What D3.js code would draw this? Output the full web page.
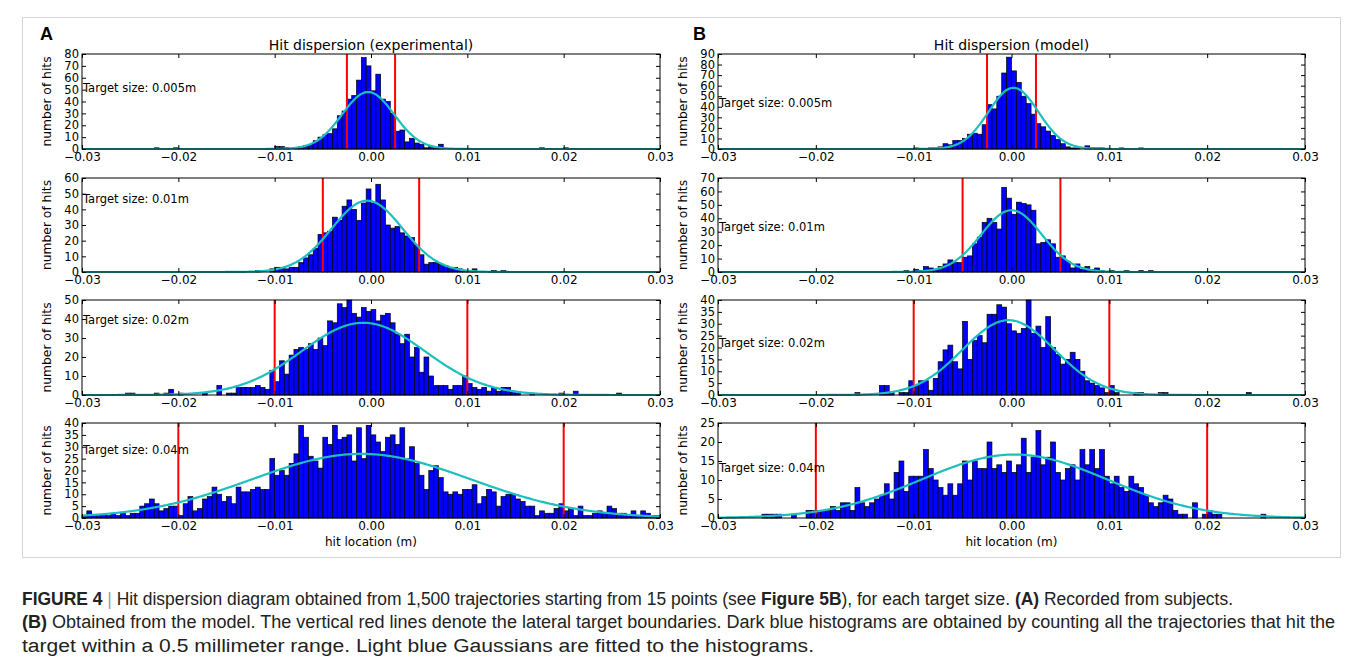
<!DOCTYPE html>
<html><head><meta charset="utf-8">
<script src="https://cdn.jsdelivr.net/npm/d3@7"></script>
<style>body{margin:0;background:#fff}</style>
</head><body><svg id="c" width="1357" height="669"></svg>
<script>
// ---------------- DATA ----------------
const binWidth = 0.0005;            // 0.5 mm bins
const xDomain = [-0.03, 0.03];
const xTickValues = [-0.03, -0.02, -0.01, 0.00, 0.01, 0.02, 0.03];
const targetSizes = [0.005, 0.01, 0.02, 0.04];
const targetLabels = ["Target size: 0.005m", "Target size: 0.01m", "Target size: 0.02m", "Target size: 0.04m"];
const panelTitles = ["Hit dispersion (experimental)", "Hit dispersion (model)"];
const panelLetters = ["A", "B"];
const yMaxExp = [80, 60, 50, 40];
const yStepExp = [10, 10, 10, 5];
const yMaxModel = [90, 70, 40, 25];
const yStepModel = [10, 10, 5, 5];

// histogram counts, 120 bins from -0.03 to 0.03
const exp005 = [
 0,0,0,0,0,0,0,0,0,0, 0,0,0,0,0,1,0,0,0,1, 0,0,0,0,0,0,0,0,0,0, 0,0,0,0,0,0,0,0,0,0,
 2,2,1,0,1,2,3,4,7,10, 12,13,17,28,32,42,45,58,77,70, 49,63,42,40,30,15,16,6,9,5, 4,1,2,1,4,0,0,0,0,0,
 0,0,0,0,0,0,0,0,0,0, 0,0,0,0,0,1,0,0,0,0, 1,0,0,0,0,0,0,0,0,0, 0,0,0,0,0,0,0,0,0,0];
const exp01 = [
 0,0,0,0,0,0,0,0,0,0, 0,0,0,0,0,0,0,0,0,0, 0,0,0,0,0,0,0,0,0,0, 0,0,0,0,0,0,1,0,0,2,
 3,3,2,3,3,6,9,11,15,24, 25,26,35,33,42,46,40,33,44,53, 44,56,46,30,28,29,25,23,22,17, 11,5,6,6,5,4,3,3,2,1,
 1,2,0,0,0,1,0,1,0,0, 0,0,0,0,0,0,0,0,0,0, 0,0,0,0,0,0,0,0,0,0, 0,0,0,0,0,0,0,0,0,0];
const exp02 = [
 0,0,0,0,0,0,0,0,0,1, 1,0,0,0,0,1,0,1,3,0, 1,0,0,0,0,1,0,0,5,0, 1,1,4,4,4,4,5,4,3,13,
 7,18,11,21,24,25,24,27,24,30, 26,39,38,48,46,50,43,41,46,44, 45,39,42,43,38,32,27,32,20,25, 12,20,10,5,5,5,3,5,5,10,
 6,4,3,4,2,4,2,4,4,2, 1,0,0,1,0,0,0,0,0,1, 0,0,2,0,0,0,0,0,0,0, 0,1,0,0,0,0,0,0,0,0];
const exp04 = [
 1,3,1,1,1,1,2,1,2,1, 2,2,5,6,8,6,3,4,5,5, 1,6,9,3,4,8,9,13,10,7, 9,6,13,11,11,12,13,12,12,25,
 18,20,18,23,27,39,34,26,24,21, 34,31,39,33,34,35,24,38,25,39, 35,32,28,34,35,31,38,25,30,23, 18,12,20,22,17,11,10,11,10,12,
 12,14,6,9,12,11,5,9,10,10, 8,7,5,5,1,3,2,2,4,6, 3,4,1,5,1,1,2,3,2,5, 4,2,2,1,3,1,3,2,1,1];
const model005 = [
 0,0,0,0,0,0,0,0,0,0, 0,0,0,0,0,0,0,0,0,0, 0,0,0,0,0,0,0,0,0,0, 0,0,0,0,0,0,0,0,0,0,
 1,0,0,1,1,2,5,4,8,8, 10,14,15,14,23,42,38,50,72,87, 74,63,50,43,33,24,21,17,13,9, 5,2,1,1,0,3,1,1,1,0,
 0,0,1,0,0,0,1,0,0,0, 0,0,0,0,0,0,0,0,0,0, 0,0,0,0,0,0,0,0,0,0, 0,0,0,0,0,0,0,0,0,0];
const model01 = [
 0,0,0,0,0,0,0,0,0,0, 0,0,0,0,0,0,0,0,0,0, 0,0,0,0,0,0,0,0,0,0, 0,0,0,0,0,0,0,0,1,0,
 2,1,4,3,2,4,6,9,7,7, 11,12,21,26,37,40,37,32,63,55, 43,52,51,50,46,21,22,24,21,11, 12,8,3,6,2,4,2,3,1,0,
 1,0,0,1,0,0,1,0,1,0, 0,0,0,0,0,0,0,0,0,0, 0,0,0,0,0,0,0,0,0,0, 0,0,0,0,0,0,0,0,0,0];
const model02 = [
 0,0,0,0,0,0,0,0,0,0, 0,0,0,0,0,0,0,0,0,0, 0,0,0,0,0,0,0,0,1,0, 0,0,0,4,4,1,0,1,1,6,
 4,6,6,2,7,14,19,21,14,11, 31,15,23,25,22,34,34,38,37,30, 27,26,28,40,26,29,20,33,20,17, 13,15,18,15,10,6,5,4,3,1,
 4,1,0,0,0,1,1,0,0,0, 1,1,0,0,0,0,0,0,0,0, 0,0,0,0,0,0,0,0,1,0, 0,0,0,0,0,0,0,0,0,0];
const model04 = [
 0,0,0,0,0,0,0,0,0,1, 1,1,1,0,0,1,0,0,2,2, 2,2,2,3,2,4,4,2,8,4, 3,4,5,6,9,5,12,15,7,11,
 11,11,18,13,10,8,6,9,6,9, 15,10,15,13,13,20,13,14,12,15, 12,14,21,12,16,23,14,16,20,12, 10,13,14,10,18,14,18,13,18,11,
 9,11,8,7,11,9,8,6,4,3, 4,6,5,2,1,1,0,4,0,1, 2,1,1,0,0,0,0,0,0,0, 0,1,0,0,0,0,0,0,0,0];

// fitted Gaussians (mean, sigma, peak height)
const gaussMeanExp = [-0.0003, -0.0004, -0.0008, -0.0010];
const gaussSigmaExp = [0.0027, 0.0037, 0.0064, 0.0113];
const gaussPeakExp = [48, 45.5, 38, 27];
const gaussMeanModel = [0.0002, 0.0000, -0.0003, 0.0003];
const gaussSigmaModel = [0.00255, 0.0031, 0.0047, 0.0095];
const gaussPeakModel = [58, 46, 31.5, 16.7];

const captionLines = [
  [["FIGURE 4", "b"], [" | ", "bar"], ["Hit dispersion diagram obtained from 1,500 trajectories starting from 15 points (see ", "r"], ["Figure 5B", "b"], ["), for each target size. ", "r"], ["(A)", "b"], [" Recorded from subjects.", "r"]],
  [["(B)", "b"], [" Obtained from the model. The vertical red lines denote the lateral target boundaries. Dark blue histograms are obtained by counting all the trajectories that hit the", "r"]],
  [["target within a 0.5 millimeter range. Light blue Gaussians are fitted to the histograms.", "r"]]
];

// ---------------- LAYOUT ----------------
const colX = [[82, 660], [718, 1305]];
const rowTop = [54, 178, 300, 423];
const rowBottom = [149, 272, 395, 518];
const labelFrac = [0.36, 0.22, 0.21, 0.28];       // "Target size" text vertical position (exp)
const labelFracB = [0.52, 0.52, 0.45, 0.47];      // model
const captionLen = [1211, 1313, 792];
const captionY = [605, 628, 652];

const FONT = "DejaVu Sans";
const svg = d3.select("#c");

svg.append("rect").attr("x", 22.5).attr("y", 17.5).attr("width", 1318).attr("height", 540)
  .attr("fill", "none").attr("stroke", "#d6d6d6").attr("stroke-width", 1);

const columns = [
  {counts: [exp005, exp01, exp02, exp04], yMax: yMaxExp, yStep: yStepExp, mu: gaussMeanExp, sd: gaussSigmaExp, pk: gaussPeakExp, lf: labelFrac},
  {counts: [model005, model01, model02, model04], yMax: yMaxModel, yStep: yStepModel, mu: gaussMeanModel, sd: gaussSigmaModel, pk: gaussPeakModel, lf: labelFracB}
];

columns.forEach((col, ci) => {
  const [x0, x1] = colX[ci];
  const x = d3.scaleLinear().domain(xDomain).range([x0, x1]);
  svg.append("text").attr("x", ci === 0 ? 40 : 693).attr("y", 40).text(panelLetters[ci])
    .attr("font-family", "Liberation Sans, Arial").attr("font-weight", "bold").attr("font-size", 18);
  svg.append("text").attr("x", (x0 + x1) / 2).attr("y", rowTop[0] - 4).attr("text-anchor", "middle")
    .attr("font-family", FONT).attr("font-size", 14).text(panelTitles[ci]);

  targetSizes.forEach((ts, ri) => {
    const top = rowTop[ri], bottom = rowBottom[ri];
    const y = d3.scaleLinear().domain([0, col.yMax[ri]]).range([bottom, top]);
    const g = svg.append("g");
    const counts = col.counts[ri];
    const bins = counts.map((c, i) => ({x0: xDomain[0] + i * binWidth, x1: xDomain[0] + (i + 1) * binWidth, c}))
      .filter(d => d.c > 0);
    g.selectAll("rect.bar").data(bins).join("rect").attr("class", "bar")
      .attr("x", d => x(d.x0)).attr("width", d => x(d.x1) - x(d.x0))
      .attr("y", d => y(d.c)).attr("height", d => y(0) - y(d.c))
      .attr("fill", "#0000ff").attr("stroke", "#000").attr("stroke-width", 0.7);
    g.selectAll("line.tb").data([-ts / 2, ts / 2]).join("line").attr("class", "tb")
      .attr("x1", d => x(d)).attr("x2", d => x(d)).attr("y1", top).attr("y2", bottom)
      .attr("stroke", "#ff0000").attr("stroke-width", 2);
    const xs = d3.range(0, 601).map(i => xDomain[0] + i * (xDomain[1] - xDomain[0]) / 600);
    const gauss = v => col.pk[ri] * Math.exp(-((v - col.mu[ri]) ** 2) / (2 * col.sd[ri] ** 2));
    g.append("path").datum(xs).attr("fill", "none").attr("stroke", "#1cbfbf").attr("stroke-width", 2.2)
      .attr("d", d3.line().x(v => x(v)).y(v => y(gauss(v))));
    g.append("rect").attr("x", x0).attr("y", top).attr("width", x1 - x0).attr("height", bottom - top)
      .attr("fill", "none").attr("stroke", "#000").attr("stroke-width", 1);
    const yTicks = d3.range(0, col.yMax[ri] + 1e-9, col.yStep[ri]);
    const fmtX = d3.format(".2f");
    const axB = g.append("g").attr("transform", `translate(0,${bottom})`)
      .call(d3.axisBottom(x).tickValues(xTickValues).tickSize(-4).tickPadding(3).tickFormat(fmtX));
    const axT = g.append("g").attr("transform", `translate(0,${top})`)
      .call(d3.axisTop(x).tickValues(xTickValues).tickSize(-4).tickFormat(""));
    const axL = g.append("g").attr("transform", `translate(${x0},0)`)
      .call(d3.axisLeft(y).tickValues(yTicks).tickSize(-4).tickPadding(3).tickFormat(d3.format("d")));
    const axR = g.append("g").attr("transform", `translate(${x1},0)`)
      .call(d3.axisRight(y).tickValues(yTicks).tickSize(-4).tickFormat(""));
    [axB, axT, axL, axR].forEach(a => {
      a.select(".domain").remove();
      a.attr("font-family", FONT).attr("font-size", 12);
      a.selectAll("text").attr("fill", "#000");
    });
    axL.attr("font-size", 11.5);
    svg.append("text").attr("transform", `translate(${x0 - 31},${(top + bottom) / 2}) rotate(-90)`)
      .attr("text-anchor", "middle").attr("font-family", FONT).attr("font-size", 12.3).text("number of hits");
    svg.append("text").attr("x", x0 + 1).attr("y", top + (bottom - top) * col.lf[ri] + 4)
      .attr("font-family", FONT).attr("font-size", 11.5).text(targetLabels[ri]);
    if (ri === 3) {
      svg.append("text").attr("x", (x0 + x1) / 2).attr("y", bottom + 28).attr("text-anchor", "middle")
        .attr("font-family", FONT).attr("font-size", 12).text("hit location (m)");
    }
  });
});

// caption
captionLines.forEach((parts, li) => {
  const t = svg.append("text").attr("x", 22).attr("y", captionY[li])
    .attr("font-family", "Liberation Sans Narrow, Arial Narrow, sans-serif").attr("font-size", 18)
    .attr("fill", "#222").attr("textLength", captionLen[li]).attr("lengthAdjust", "spacingAndGlyphs");
  parts.forEach(([s, kind]) => {
    const sp = t.append("tspan").text(s);
    if (kind === "b") sp.attr("font-weight", "bold");
    if (kind === "bar") sp.attr("fill", "#999");
  });
});
</script></body></html>
